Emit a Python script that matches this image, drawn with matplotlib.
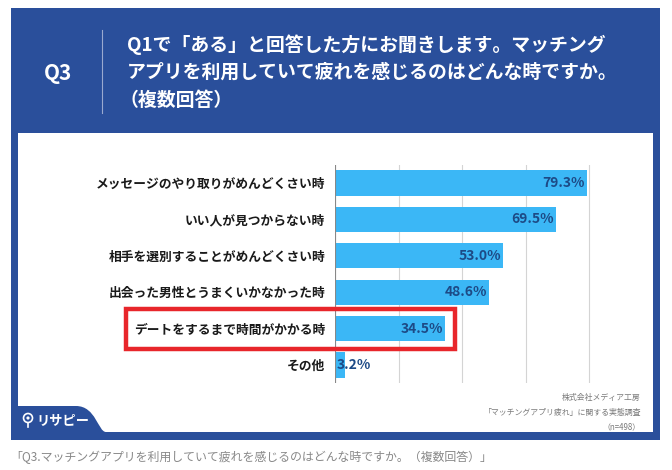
import matplotlib
matplotlib.use("Agg")
import matplotlib.pyplot as plt
from matplotlib.patches import Rectangle, Circle, PathPatch
from matplotlib.path import Path

plt.rcParams['font.family'] = ['Noto Sans CJK JP', 'DejaVu Sans']

# data
categories = ['メッセージのやり取りがめんどくさい時', 'いい人が見つからない時',
              '相手を選別することがめんどくさい時', '出会った男性とうまくいかなかった時',
              'デートをするまで時間がかかる時', 'その他']
values = [79.3, 69.5, 53.0, 48.6, 34.5, 3.2]
highlight = 4
title_lines = ['Q1で「ある」と回答した方にお聞きします。マッチング',
               'アプリを利用していて疲れを感じるのはどんな時ですか。',
               '（複数回答）']
source_lines = ['株式会社メディア工房', '「マッチングアプリ疲れ」に関する実態調査', '（n=498）']
caption = '「Q3.マッチングアプリを利用していて疲れを感じるのはどんな時ですか。（複数回答）」'

W, H = 672, 470
navy = '#2a4f9b'
barc = '#3bb7f6'
valc = '#1d4a86'

fig = plt.figure(figsize=(W / 100, H / 100), dpi=100)
fig.patch.set_facecolor('white')

# background layer in pixel coords
bg = fig.add_axes([0, 0, 1, 1])
bg.set_xlim(0, W)
bg.set_ylim(H, 0)
bg.axis('off')
bg.add_patch(Rectangle((11, 8), 649, 432, color=navy, lw=0))
bg.add_patch(Rectangle((18, 133), 635, 299, color='white', lw=0))

# logo tab
codes = [Path.MOVETO, Path.LINETO, Path.LINETO, Path.CURVE4, Path.CURVE4, Path.CURVE4, Path.CLOSEPOLY]
verts = [(11, 432), (11, 406), (76, 406), (96, 406), (98, 432), (106, 432), (11, 432)]
bg.add_patch(PathPatch(Path(verts, codes), color=navy, lw=0))
bg.add_patch(Circle((28, 418), 4.5, fill=False, ec='white', lw=1.2))
bg.add_patch(Circle((28, 418), 1.6, color='white', lw=0))
bg.plot([28, 28], [422.5, 427], color='white', lw=1.2)
bg.text(36, 420, 'リサピー', color='white', fontsize=9.5, fontweight='bold', va='center', ha='left')

# header
bg.text(58, 73, 'Q3', color='white', fontsize=15, fontweight='bold', ha='center', va='center')
bg.plot([102, 102], [30, 113], color='#9aaad0', lw=0.8)
for i, line in enumerate(title_lines):
    x = 127 if i < 2 else 120
    bg.text(x, 45 + 27.5 * i, line, color='white', fontsize=13.6, fontweight='bold',
            ha='left', va='center')

# source note
for i, line in enumerate(source_lines):
    bg.text(641, 397 + 15 * i, line, color='#7a7a7a', fontsize=5.7, ha='right', va='center')

# caption
bg.text(10, 457, caption, color='#888888', fontsize=8.6, ha='left', va='center')

# chart
x0, px_per = 335, 63.5 / 20
top, bottom = 164.8, 383.2
ax = fig.add_axes([x0 / W, (H - bottom) / H, 100 * px_per / W, (bottom - top) / H])
ax.patch.set_alpha(0)
ypos = list(range(len(categories)))
ax.barh(ypos, values, height=0.69, color=barc, zorder=2)
ax.set_xlim(0, 100)
ax.set_ylim(len(categories) - 0.5, -0.5)
ax.set_xticks([0, 20, 40, 60, 80])
ax.set_xticklabels([])
ax.grid(axis='x', color='#d4d4d4', lw=0.8, zorder=0)
ax.tick_params(axis='both', length=0)
ax.set_yticks(ypos)
ax.set_yticklabels(categories, fontsize=9.2, fontweight='bold', color='#1a1a1a')
ax.tick_params(axis='y', pad=7)
for s in ax.spines.values():
    s.set_visible(False)
ax.axvline(0, color='#888888', lw=0.8, zorder=3)
for y, v in zip(ypos, values):
    if v < 10:
        ax.text(0.6, y, f'{v:.1f}%', color=valc, fontsize=10, fontweight='bold',
                ha='left', va='center', zorder=4)
    else:
        ax.text(v - 0.5, y, f'{v:.1f}%', color=valc, fontsize=10, fontweight='bold',
                ha='right', va='center', zorder=4)

# highlight box
ov = fig.add_axes([0, 0, 1, 1])
ov.set_xlim(0, W)
ov.set_ylim(H, 0)
ov.axis('off')
ov.patch.set_alpha(0)
yc = top + (highlight + 0.5) * (bottom - top) / len(categories)
ov.add_patch(Rectangle((126, yc - 20), 329, 40, fill=False, ec='#e8262b', lw=3.2))

fig.savefig('out.png', dpi=100)
